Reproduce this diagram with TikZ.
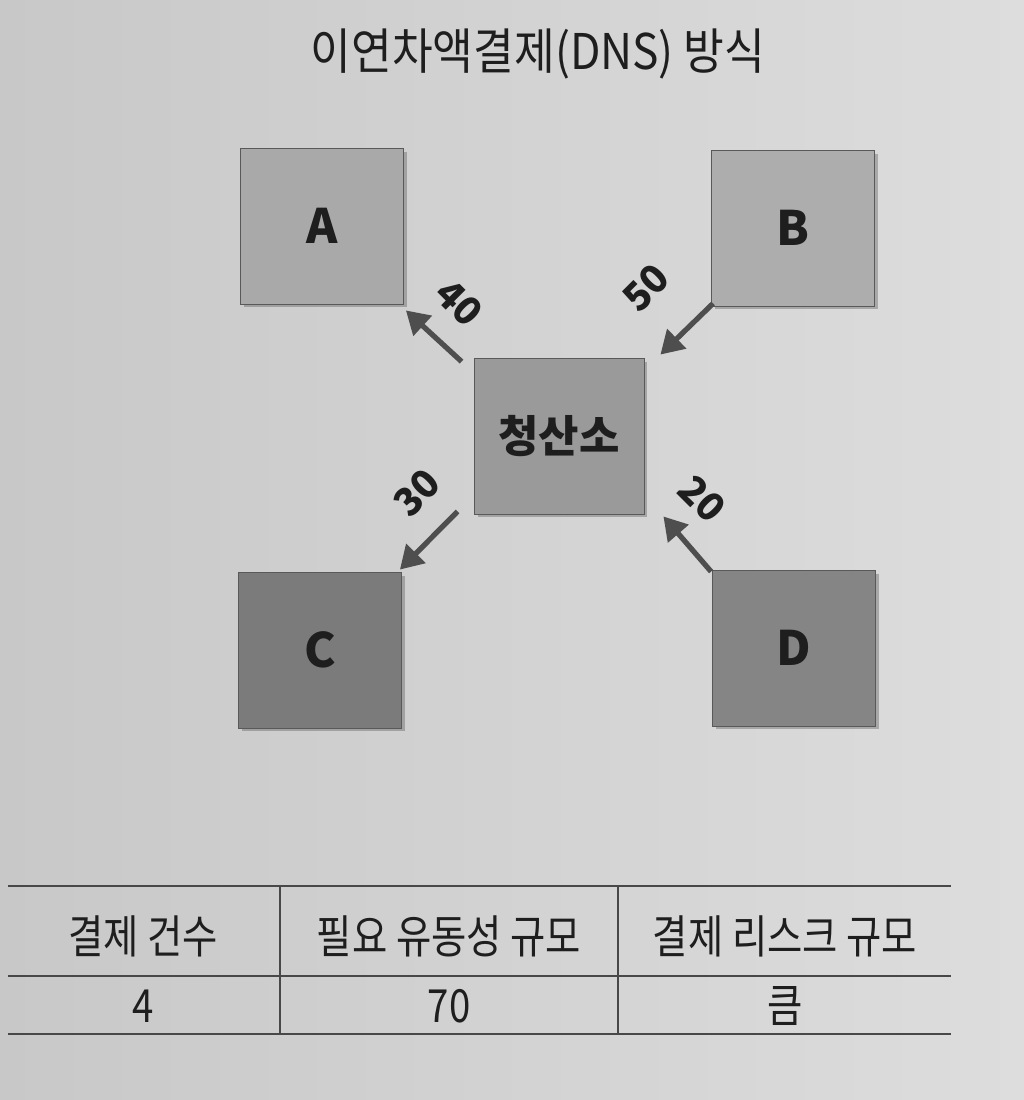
\documentclass[tikz,border=0pt]{standalone}
\usepackage{fontspec}
\setmainfont{Noto Sans CJK KR}
\newfontfamily\condfont[FakeStretch=0.84]{Noto Sans CJK KR}
\newfontfamily\titlefont[FakeStretch=0.9]{Noto Sans CJK KR}
\usetikzlibrary{arrows.meta,calc,shadows}
\definecolor{bgL}{HTML}{C8C8C8}
\definecolor{bgR}{HTML}{DDDDDD}
\definecolor{boxA}{HTML}{A9A9A9}
\definecolor{boxB}{HTML}{ADADAD}
\definecolor{boxS}{HTML}{9A9A9A}
\definecolor{boxC}{HTML}{7B7B7B}
\definecolor{boxD}{HTML}{858585}
\definecolor{ink}{HTML}{1E1E1E}
\definecolor{arrowcol}{HTML}{4E4E4E}
\definecolor{rulecol}{HTML}{484848}
\tikzset{
  party/.style={draw=black!65, line width=0.5pt, minimum width=3.26cm, minimum height=3.12cm,
    inner sep=0pt, text=ink, font=\bfseries\fontsize{27}{30}\selectfont,
    drop shadow={shadow xshift=0.07cm, shadow yshift=-0.07cm, opacity=0.35, fill=black!70}},
  flow/.style={draw=arrowcol, line width=3pt, -{Triangle[length=13pt,width=15pt]}},
  amount/.style={text=ink, font=\bfseries\fontsize{22}{24}\selectfont, inner sep=0pt},
  tabrule/.style={draw=rulecol, line width=0.8pt},
  tabtext/.style={text=ink, font=\condfont\fontsize{26}{28}\selectfont, inner sep=0pt}
}
\begin{document}
\begin{tikzpicture}[x=0.02cm,y=-0.02cm]
\useasboundingbox (0,0) rectangle (1024,1100);
\shade[left color=bgL, right color=bgR] (0,0) rectangle (1024,1100);

% title
\node[text=ink, font=\titlefont\fontsize{28}{31}\selectfont, inner sep=0pt] (title) at (538,54) {이연차액결제(DNS) 방식};

% participants
\node[party, fill=boxA] (A) at (322,226) {A};
\node[party, fill=boxB] (B) at (793,228) {B};
\node[party, fill=boxS, minimum width=3.4cm, font=\bfseries\fontsize{25}{28}\selectfont] (S) at (559,436) {청산소};
\node[party, fill=boxC] (C) at (320,650) {C};
\node[party, fill=boxD] (D) at (794,648) {D};

% flows
\draw[flow] ($(S.north west)+(-12,4)$) -- ($(A.south east)+(2,6)$);
\draw[flow] ($(B.south west)+(2,-3)$) -- ($(S.north east)+(16,-3)$);
\draw[flow] ($(S.south west)+(-16,-3)$) -- ($(C.north east)+(-2,-2)$);
\draw[flow] ($(D.north west)+(-1,2)$) -- ($(S.south east)+(19,2)$);

% amounts
\node[amount, rotate=-45] (l40) at (459,303) {40};
\node[amount, rotate=45] (l50) at (646,288) {50};
\node[amount, rotate=45] (l30) at (417,493) {30};
\node[amount, rotate=-45] (l20) at (702,499) {20};

% table
\coordinate (tl) at (8,886);
\coordinate (tr) at (951,886);
\coordinate (ml) at (8,976);
\coordinate (mr) at (951,976);
\coordinate (bl) at (8,1034);
\coordinate (br) at (951,1034);
\coordinate (v1t) at (280,886);
\coordinate (v1b) at (280,1034);
\coordinate (v2t) at (618,886);
\coordinate (v2b) at (618,1034);
\draw[tabrule] (tl) -- (tr);
\draw[tabrule] (ml) -- (mr);
\draw[tabrule] (bl) -- (br);
\draw[tabrule] (v1t) -- (v1b);
\draw[tabrule] (v2t) -- (v2b);

\node[tabtext] (h1) at (143,936) {결제 건수};
\node[tabtext] (h2) at (449,936) {필요 유동성 규모};
\node[tabtext] (h3) at (785,936) {결제 리스크 규모};
\node[tabtext] (c1) at (143,1006) {4};
\node[tabtext] (c2) at (449,1006) {70};
\node[tabtext] (c3) at (785,1006) {큼};
\end{tikzpicture}
\end{document}
